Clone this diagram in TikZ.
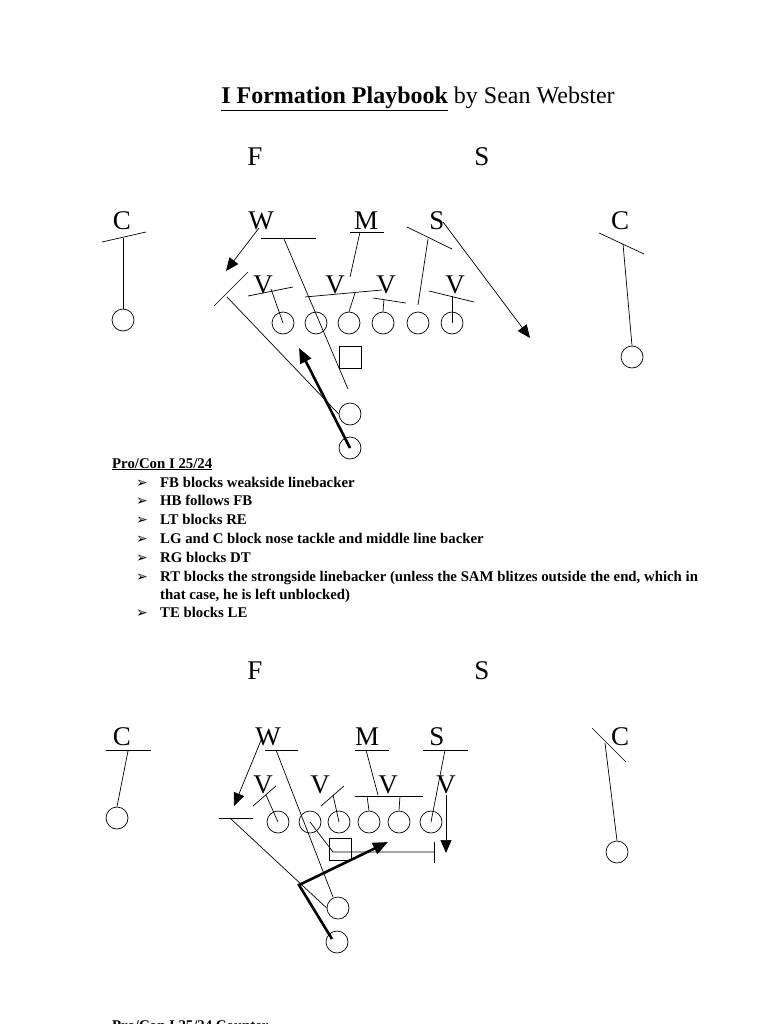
\documentclass[tikz,border=0pt]{standalone}
\usepackage{fontspec}
\setmainfont{Liberation Serif}
\newfontfamily\symfont{DejaVu Sans}
\usetikzlibrary{arrows.meta}
\begin{document}
\begin{tikzpicture}[x=1pt,y=-1pt,
  pl/.style={draw,circle,minimum size=22pt,inner sep=0pt,line width=0.7pt},
  qb/.style={draw,minimum size=22pt,inner sep=0pt,line width=0.7pt},
  lbl/.style={font=\fontsize{27}{27}\selectfont,inner sep=0pt},
  ln/.style={line width=0.7pt},
  arr/.style={line width=0.7pt,-{Triangle[length=13pt,width=11pt]}},
  thk/.style={line width=2.6pt,-{Triangle[length=15pt,width=12pt]}},
  bul/.style={anchor=base west,inner sep=0pt,font=\bfseries\fontsize{14.8}{16}\selectfont}]
\useasboundingbox (0,0) rectangle (768,1024);
\fill[white] (0,0) rectangle (768,1024);
\node[anchor=base,inner sep=0pt,font=\fontsize{24}{24}\selectfont] (title) at (418,104) {\underline{\textbf{I Formation Playbook}} by Sean Webster};
% ---------- top diagram
\node[lbl] (f1) at (255,157) {F};
\node[lbl] (s1) at (482,157) {S};
\node[lbl] (cl1) at (122,221) {C};
\node[lbl] (w1) at (261,221) {W};
\node[lbl] (m1) at (366,221) {M};
\node[lbl] (ss1) at (437,221) {S};
\node[lbl] (cr1) at (620,221) {C};
\node[lbl] (v1a) at (263,285) {V};
\node[lbl] (v1b) at (335,285) {V};
\node[lbl] (v1c) at (386,285) {V};
\node[lbl] (v1d) at (455,285) {V};
\foreach \n/\x in {a/283,b/316,c/349,d/383,e/418,f/452} \node[pl] (o1\n) at (\x,323) {};
\node[pl] (wl1) at (123,320) {};
\node[pl] (wr1) at (632,357) {};
\node[qb] (q1) at (350,357) {};
\node[pl] (fb1) at (350,414) {};
\node[pl] (hb1) at (350,448) {};
\draw[ln] (102,242) -- (146,232); \draw[ln] (123,238) -- (wl1.north);
\draw[ln] (599,233) -- (644,254); \draw[ln] (623,244) -- (wr1.north);
\draw[arr] (259,228) -- (226,271);
\draw[ln] (261,238) -- (316,238); \draw[ln] (284,239) -- (348,389);
\draw[ln] (350,232) -- (384,232); \draw[ln] (360,232) -- (350,277);
\draw[ln] (407,227) -- (452,249); \draw[ln] (428,239) -- (418,305);
\draw[arr] (443,222) -- (530,338);
\draw[ln] (248,296) -- (293,287); \draw[ln] (271,289) -- (o1a.center);
\draw[ln] (305,297) -- (382,290); \draw[ln] (355,293) -- (o1c.north);
\draw[ln] (373,298) -- (406,303); \draw[ln] (384,299) -- (o1d.north);
\draw[ln] (429,291) -- (474,302); \draw[ln] (452,296) -- (o1f.center);
\draw[ln] (214,306) -- (248,272); \draw[ln] (227,297) -- (fb1.west);
\draw[thk] (hb1.center) -- (299,348);
% ---------- text
\node[bul] (hd) at (112,468) {\underline{Pro/Con I 25/24}};
\foreach \y/\t in {487/FB blocks weakside linebacker,505/HB follows FB,524/LT blocks RE,543/LG and C block nose tackle and middle line backer,562/RG blocks DT,581/RT blocks the strongside linebacker (unless the SAM blitzes outside the end{,} which in,617/TE blocks LE}{
  \node[bul] at (136,\y) {\symfont\fontsize{14}{14}\selectfont ➢};
  \node[bul] at (160,\y) {\t};}
\node[bul] (wrap) at (160,599) {that case, he is left unblocked)};
% ---------- bottom diagram
\node[lbl] (f2) at (255,671) {F};
\node[lbl] (s2) at (482,671) {S};
\node[lbl] (cl2) at (122,737) {C};
\node[lbl] (w2) at (268,737) {W};
\node[lbl] (m2) at (367,737) {M};
\node[lbl] (ss2) at (437,737) {S};
\node[lbl] (cr2) at (620,737) {C};
\node[lbl] (v2a) at (263,785) {V};
\node[lbl] (v2b) at (320,785) {V};
\node[lbl] (v2c) at (388,785) {V};
\node[lbl] (v2d) at (446,785) {V};
\foreach \n/\x in {a/278,b/310,c/339,d/369,e/399,f/431} \node[pl] (o2\n) at (\x,822) {};
\node[pl] (wl2) at (117,818) {};
\node[pl] (wr2) at (617,852) {};
\node[qb] (q2) at (340,849) {};
\node[pl] (fb2) at (338,908) {};
\node[pl] (hb2) at (337,942) {};
\draw[ln] (106,750) -- (151,750); \draw[ln] (128,751) -- (wl2.north);
\draw[ln] (592,728) -- (626,762); \draw[ln] (605,743) -- (wr2.north);
\draw[arr] (262,738) -- (234,806);
\draw[ln] (265,750) -- (298,750); \draw[ln] (276,750) -- (333,897);
\draw[ln] (355,750) -- (389,750); \draw[ln] (366,750) -- (378,795);
\draw[ln] (423,750) -- (468,750); \draw[ln] (445,750) -- (o2f.center);
\draw[arr] (446,795) -- (446,853);
\draw[ln] (253,806) -- (276,786); \draw[ln] (266,795) -- (o2a.center);
\draw[ln] (321,806) -- (344,786); \draw[ln] (333,795) -- (o2c.center);
\draw[ln] (355,796) -- (423,796); \draw[ln] (367,796) -- (o2d.north); \draw[ln] (400,796) -- (o2e.north);
\draw[ln] (o2b.center) -- (333,852) -- (434,852); \draw[ln] (434,842) -- (434,863);
\draw[ln] (219,818) -- (253,818); \draw[ln] (231,819) -- (fb2.west);
\draw[thk] (332,939) -- (299,885) -- (388,842);
\node[bul] (hd2) at (112,1030) {\underline{Pro/Con I 25/24 Counter}};
\end{tikzpicture}
\end{document}
